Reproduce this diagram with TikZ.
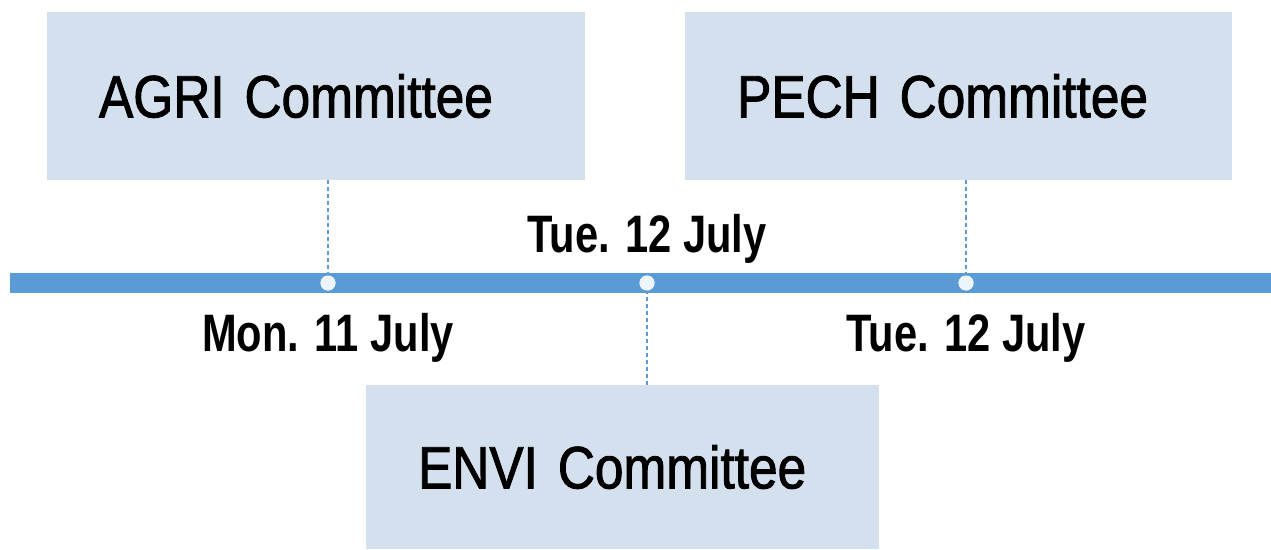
\documentclass[tikz,border=0pt]{standalone}
\usepackage{fontspec}
\setmainfont{Liberation Sans}
\newfontfamily\cmtfont{Liberation Sans}[FakeStretch=0.86, FakeBold=1.5]
\newfontfamily\datefont{Liberation Sans}[FakeStretch=0.79]
\usetikzlibrary{positioning}
\definecolor{boxblue}{HTML}{D5E0EF}
\definecolor{barblue}{HTML}{5B9BD5}
\definecolor{dotwhite}{HTML}{EEF4FB}

\begin{document}
\begin{tikzpicture}[
  x=0.02cm, y=0.02cm,
  boks/.style={fill=boxblue, minimum height=3.36cm, inner xsep=1.04cm, inner ysep=0pt, align=left, font=\cmtfont\fontsize{34}{40}\selectfont},
  dato/.style={font=\datefont\bfseries\fontsize{30}{36}\selectfont, inner sep=0pt, anchor=base},
  prikk/.style={circle, fill=dotwhite, minimum size=0.3cm, inner sep=0pt},
  stipl/.style={barblue, dash pattern=on 2.3pt off 1.7pt, line width=0.85pt}
]
\useasboundingbox (0,0) rectangle (1271,549);
\node[boks, text width=8.68cm] (agri) at (316,453) {AGRI Committee};
\node[boks, text width=8.86cm] (pech) at (958.5,453) {PECH Committee};
\node[boks, text width=8.18cm, minimum height=3.28cm] (envi) at (622.5,82) {ENVI Committee};
\node[fill=barblue, minimum width=25.22cm, minimum height=0.4cm, inner sep=0pt, anchor=west] (akse) at (10,266) {};
\node[prikk] (mon) at (328,266) {};
\node[prikk] (tuemid) at (647,266) {};
\node[prikk] (tue) at (966,266) {};
\draw[stipl] (agri.south -| mon) -- (mon.center);
\draw[stipl] (pech.south -| tue) -- (tue.center);
\draw[stipl] (tuemid.center) -- (envi.north -| tuemid);
\node[prikk] at (mon) {};
\node[prikk] at (tuemid) {};
\node[prikk] at (tue) {};
\node[dato] (lblmid) at ([yshift=0.62cm]tuemid.center) {Tue. 12 July};
\node[dato] (lblmon) at ([yshift=-1.38cm]mon.center) {Mon. 11 July};
\node[dato] (lbltue) at ([yshift=-1.38cm]tue.center) {Tue. 12 July};
\end{tikzpicture}
\end{document}
